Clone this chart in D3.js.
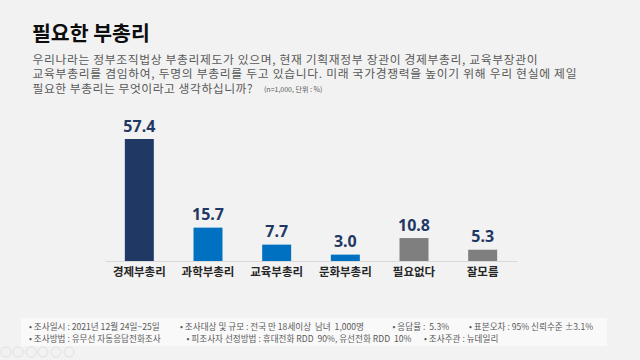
<!DOCTYPE html>
<html>
<head>
<meta charset="utf-8">
<script src="https://cdn.jsdelivr.net/npm/d3@7"></script>
<style>
  html, body { margin: 0; padding: 0; background: #f2f2f2; }
  svg { display: block; }
</style>
</head>
<body>
<script>
// ---- data ----
const categories = ["경제부총리", "과학부총리", "교육부총리", "문화부총리", "필요없다", "잘모름"];
const values = [57.4, 15.7, 7.7, 3.0, 10.8, 5.3];
const barColors = ["#203864", "#0070c0", "#0070c0", "#0070c0", "#7f7f7f", "#7f7f7f"];
const titleText = "필요한 부총리";
const questionLines = [
  "우리나라는 정부조직법상 부총리제도가 있으며, 현재 기획재정부 장관이 경제부총리, 교육부장관이",
  "교육부총리를 겸임하여, 두명의 부총리를 두고 있습니다. 미래 국가경쟁력을 높이기 위해 우리 현실에 제일",
  "필요한 부총리는 무엇이라고 생각하십니까?"
];
const noteText = "(n=1,000, 단위 : %)";
const footerLine1 = ["• 조사일시 : 2021년 12월 24일~25일", "• 조사대상 및 규모 : 전국 만 18세이상  남녀  1,000명", "• 응답율 :  5.3%", "• 표본오차 : 95% 신뢰수준 ±3.1%"];
const footerLine2 = ["• 조사방법 : 유무선 자동응답전화조사", "• 피조사자 선정방법 : 휴대전화 RDD  90%, 유선전화 RDD  10%", "• 조사주관 : 뉴데일리"];

// ---- layout ----
const W = 640, H = 360;
const font = "'Noto Sans CJK KR', 'Noto Sans', sans-serif";
const svg = d3.select("body").append("svg").attr("width", W).attr("height", H);
svg.append("rect").attr("width", W).attr("height", H).attr("fill", "#f2f2f2");

// title
svg.append("text").attr("x", 32).attr("y", 41)
  .attr("font-family", font).attr("font-size", 20.5).attr("font-weight", 700)
  .attr("fill", "#0d0d0d").text(titleText);

// question
const qy = [63.5, 78, 92.5];
const qLen = [505, 544, 220];
questionLines.forEach((t, i) => {
  svg.append("text").attr("x", 32.5).attr("y", qy[i])
    .attr("font-family", font).attr("font-size", 11.8)
    .attr("textLength", qLen[i]).attr("lengthAdjust", "spacing")
    .attr("fill", "#595959").text(t);
});
svg.append("text").attr("x", 264).attr("y", 92)
  .attr("font-family", font).attr("font-size", 7)
  .attr("fill", "#595959").text(noteText);

// scales
const x = d3.scaleBand().domain(categories).range([105, 517])
  .paddingInner(0.578).paddingOuter(0.289);
const y = d3.scaleLinear().domain([0, 60]).range([261, 133.5]);

// bars
svg.append("g").selectAll("rect").data(values).join("rect")
  .attr("x", (d, i) => x(categories[i]))
  .attr("y", d => y(d))
  .attr("width", x.bandwidth())
  .attr("height", d => y(0) - y(d))
  .attr("fill", (d, i) => barColors[i]);

// value labels
svg.append("g").selectAll("text").data(values).join("text")
  .attr("x", (d, i) => x(categories[i]) + x.bandwidth() / 2)
  .attr("y", d => y(d) - 7.5)
  .attr("text-anchor", "middle")
  .attr("font-family", "'Noto Sans', sans-serif").attr("font-size", 16).attr("font-weight", 700)
  .attr("fill", "#1f3864")
  .text(d => d.toFixed(1));

// x axis
const axis = svg.append("g").attr("transform", `translate(0,${y(0)})`)
  .call(d3.axisBottom(x).tickSize(0).tickPadding(7));
axis.select(".domain").attr("stroke", "#d9d9d9").attr("stroke-width", 1);
axis.selectAll(".tick text")
  .attr("font-family", font).attr("font-size", 11.5).attr("font-weight", 700)
  .attr("fill", "#262626");

// footer
svg.append("rect").attr("x", 21).attr("y", 318).attr("width", 586).attr("height", 28)
  .attr("fill", "#f9f9f9");
const f1x = [29, 180, 392.5, 469];
const f2x = [29, 186.5, 424];
footerLine1.forEach((t, i) => {
  svg.append("text").attr("x", f1x[i]).attr("y", 329.5)
    .attr("font-family", font).attr("font-size", 8.6).attr("fill", "#595959")
    .style("white-space", "pre").text(t);
});
footerLine2.forEach((t, i) => {
  svg.append("text").attr("x", f2x[i]).attr("y", 341.5)
    .attr("font-family", font).attr("font-size", 8.6).attr("fill", "#595959")
    .style("white-space", "pre").text(t);
});

// faint presentation controls
const icons = [6, 18, 31, 43, 56, 69];
svg.append("g").selectAll("circle").data(icons).join("circle")
  .attr("cx", d => d).attr("cy", 352).attr("r", 5)
  .attr("fill", "none").attr("stroke", "#e0e0e0").attr("stroke-width", 1);
</script>
</body>
</html>
